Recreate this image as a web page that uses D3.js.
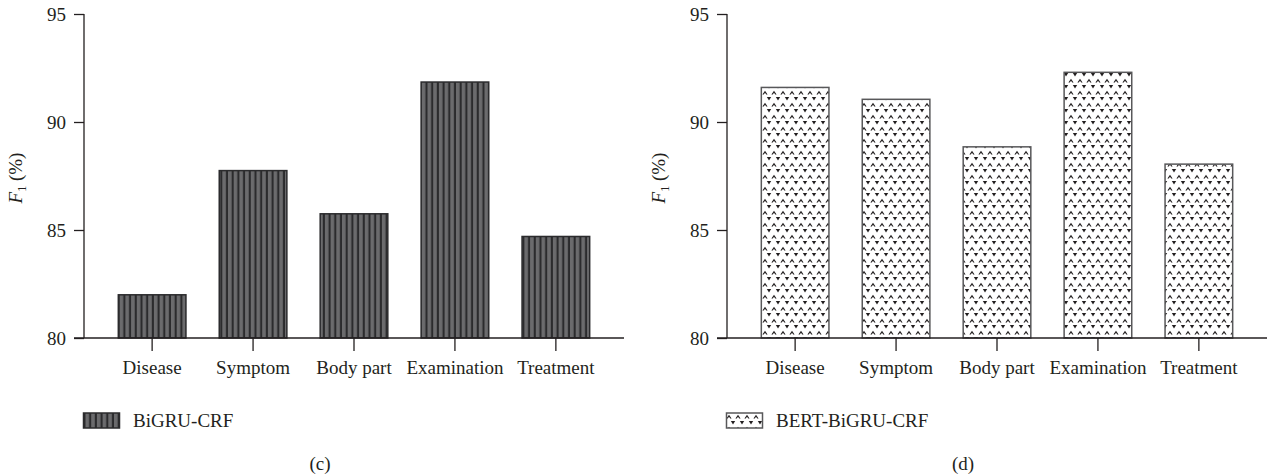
<!DOCTYPE html>
<html>
<head>
<meta charset="utf-8">
<script src="https://cdn.jsdelivr.net/npm/d3@7"></script>
<style>
  body { margin: 0; background: #fff; }
  text { font-family: "Liberation Serif", "DejaVu Serif", serif; fill: #231f20; }
</style>
</head>
<body>
<div class="wrapper"></div>
<script>
const categories = ['Disease', 'Symptom', 'Body part', 'Examination', 'Treatment']
const bigruF1 = [82.0, 87.75, 85.75, 91.85, 84.7]
const bertBigruF1 = [91.6, 91.05, 88.85, 92.3, 88.05]
const yTicks = [80, 85, 90, 95]

var width = 1269,
    height = 475,
    fontSize = 19;

var svg = d3.select('.wrapper')
.append('svg')
.attr('width', width)
.attr('height', height)

const defs = svg.append('defs')

// vertical stripes for BiGRU-CRF
const stripes = defs.append('pattern')
.attr('id', 'stripes')
.attr('patternUnits', 'userSpaceOnUse')
.attr('width', 5.7)
.attr('height', 20)
stripes.append('rect').attr('width', 5.7).attr('height', 20).attr('fill', '#6b6b6d')
stripes.append('rect').attr('x', 3.6).attr('width', 2.1).attr('height', 20).attr('fill', '#2b2b2d')

// dotted triangles for BERT-BiGRU-CRF
const dots = defs.append('pattern')
.attr('id', 'dots')
.attr('patternUnits', 'userSpaceOnUse')
.attr('width', 9)
.attr('height', 12)
dots.append('rect').attr('width', 9).attr('height', 12).attr('fill', '#fff')
dots.append('path').attr('d', 'M1.8,1 L6.2,1 L4,4.6 Z').attr('fill', '#231f20')
dots.append('path').attr('d', 'M-2.6,10.5 L0,6.8 L2.6,10.5 L1.2,10.5 L0,8.8 L-1.2,10.5 Z M6.4,10.5 L9,6.8 L11.6,10.5 L10.2,10.5 L9,8.8 L7.8,10.5 Z').attr('fill', '#231f20')

const y = d3.scaleLinear()
.domain([80, 95])
.range([338, 14])

const drawChart = (x0, values, fill, stroke, name, caption) => {

  const g = svg.append('g')

  const x = d3.scaleBand()
  .domain(categories)
  .range([x0, x0 + 540])
  .paddingInner(0.33)
  .paddingOuter(0.34)

  g.selectAll('rect.bar')
  .data(values)
  .enter()
  .append('rect')
  .attr('class', 'bar')
  .attr('x', (d, i) => x(categories[i]))
  .attr('y', d => y(d))
  .attr('width', x.bandwidth())
  .attr('height', d => y(80) - y(d))
  .attr('fill', fill)
  .attr('stroke', stroke)
  .attr('stroke-width', 1.5)

  const yAxis = g.append('g')
  .attr('transform', `translate(${x0},0)`)
  .call(d3.axisLeft(y).tickValues(yTicks).tickSize(10).tickPadding(8))
  yAxis.select('.domain').attr('d', `M0,${y(95)}V${y(80)}`)

  const xAxis = g.append('g')
  .attr('transform', `translate(0,${y(80)})`)
  .call(d3.axisBottom(x).tickSize(13).tickPadding(10))
  xAxis.select('.domain').attr('d', `M${x0 - 10},0H${x0 + 540}`)

  g.selectAll('.tick text').attr('font-size', fontSize).style('font-family', '"Liberation Serif", serif').attr('fill', '#231f20')
  g.selectAll('.domain, .tick line').attr('stroke', '#231f20').attr('stroke-width', 1.3)

  const lab = g.append('text')
  .attr('transform', `translate(${x0 - 62},178) rotate(-90)`)
  .attr('text-anchor', 'middle')
  .attr('font-size', fontSize)
  lab.append('tspan').attr('font-style', 'italic').text('F')
  lab.append('tspan').attr('font-size', 12).attr('dy', 4).text('1')
  lab.append('tspan').attr('dy', -4).text(' (%)')

  g.append('rect')
  .attr('x', x0 - 0.5)
  .attr('y', 413)
  .attr('width', 36)
  .attr('height', 15)
  .attr('fill', fill)
  .attr('stroke', stroke)
  .attr('stroke-width', 1.5)

  g.append('text')
  .attr('x', x0 + 49)
  .attr('y', 427)
  .attr('font-size', fontSize)
  .text(name)

  g.append('text')
  .attr('x', x0 + 236)
  .attr('y', 470)
  .attr('text-anchor', 'middle')
  .attr('font-size', fontSize)
  .text(caption)
}

drawChart(84, bigruF1, 'url(#stripes)', '#2b2b2d', 'BiGRU-CRF', '(c)')
drawChart(727, bertBigruF1, 'url(#dots)', '#58585a', 'BERT-BiGRU-CRF', '(d)')
</script>
</body>
</html>
